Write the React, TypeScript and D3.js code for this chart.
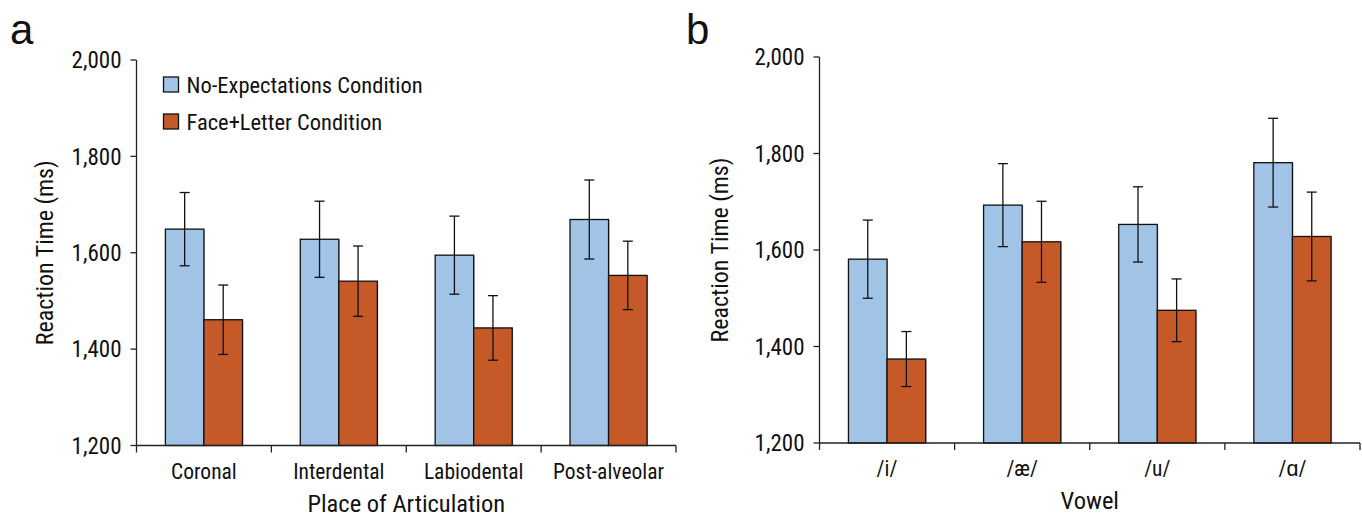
import React from "react";
import * as d3 from "d3";

const seriesNames = ["No-Expectations Condition", "Face+Letter Condition"];
const seriesColors = ["#a0c3e6", "#c55a28"];

const placeCategories = ["Coronal", "Interdental", "Labiodental", "Post-alveolar"];
const placeNoExp = [1649, 1628, 1595, 1669];
const placeNoExpErr = [76, 79, 81, 82];
const placeFaceLetter = [1461, 1541, 1444, 1553];
const placeFaceLetterErr = [72, 73, 67, 71];

const vowelCategories = ["/i/", "/æ/", "/u/", "/ɑ/"];
const vowelNoExp = [1581, 1693, 1653, 1781];
const vowelNoExpErr = [81, 86, 78, 92];
const vowelFaceLetter = [1374, 1617, 1475, 1628];
const vowelFaceLetterErr = [57, 84, 65, 92];

const yTicks = [1200, 1400, 1600, 1800, 2000];
const yDomain = [1200, 2000];

const FONT = "'Liberation Sans Narrow', 'Arial Narrow', 'Roboto Condensed', 'Liberation Sans', sans-serif";

type PanelProps = {
  letter: string;
  categories: string[];
  values: number[][];
  errors: number[][];
  xTitle: string;
  x0: number;
  x1: number;
  yTop: number;
  yBottom: number;
  legend: boolean;
  letterX: number;
  yTitleX: number;
};

function Panel(p: PanelProps) {
  const y = d3.scaleLinear().domain(yDomain).range([p.yBottom, p.yTop]);
  const x = d3.scaleBand<string>().domain(p.categories).range([p.x0, p.x1]).padding(0);
  const xs = d3
    .scaleBand<string>()
    .domain(seriesNames)
    .range([0, x.bandwidth()])
    .paddingInner(0)
    .paddingOuter(0.75);
  const fmt = d3.format(",");
  const boundaries = [...p.categories.map((c) => x(c) as number), p.x1];
  const cap = 5;
  return (
    <g fontFamily={FONT} fill="#111">
      <text x={p.letterX} y={44} fontSize={42} fontFamily="'Liberation Sans', Arial, sans-serif">
        {p.letter}
      </text>
      {/* bars */}
      {p.categories.map((c, i) =>
        seriesNames.map((s, si) => {
          const v = p.values[si][i];
          const bx = (x(c) as number) + (xs(s) as number);
          return (
            <g key={c + s}>
              <rect
                x={bx + 1}
                y={y(v) + 1}
                width={xs.bandwidth()}
                height={p.yBottom - y(v) - 1}
                fill="#bbb"
              />
              <rect
                x={bx}
                y={y(v)}
                width={xs.bandwidth()}
                height={p.yBottom - y(v)}
                fill={seriesColors[si]}
                stroke="#111"
                strokeWidth={1.3}
              />
            </g>
          );
        })
      )}
      {/* error bars */}
      {p.categories.map((c, i) =>
        seriesNames.map((s, si) => {
          const v = p.values[si][i];
          const e = p.errors[si][i];
          const cx = (x(c) as number) + (xs(s) as number) + xs.bandwidth() / 2;
          return (
            <g key={"e" + c + s} stroke="#111" strokeWidth={1.3}>
              <line x1={cx} x2={cx} y1={y(v + e)} y2={y(v - e)} />
              <line x1={cx - cap} x2={cx + cap} y1={y(v + e)} y2={y(v + e)} />
              <line x1={cx - cap} x2={cx + cap} y1={y(v - e)} y2={y(v - e)} />
            </g>
          );
        })
      )}
      {/* y axis */}
      <line x1={p.x0} x2={p.x0} y1={p.yTop} y2={p.yBottom} stroke="#222" strokeWidth={1.3} />
      {yTicks.map((t) => (
        <g key={t}>
          <line x1={p.x0 - 6} x2={p.x0} y1={y(t)} y2={y(t)} stroke="#222" strokeWidth={1.3} />
          <text x={p.x0 - 15} y={y(t)} dy="0.36em" textAnchor="end" fontSize={23}>
            {fmt(t)}
          </text>
        </g>
      ))}
      {/* x axis */}
      <line x1={p.x0} x2={p.x1} y1={p.yBottom} y2={p.yBottom} stroke="#222" strokeWidth={1.3} />
      {boundaries.map((b, i) => (
        <line key={i} x1={b} x2={b} y1={p.yBottom} y2={p.yBottom + 7} stroke="#222" strokeWidth={1.3} />
      ))}
      {p.categories.map((c) => (
        <text
          key={c}
          x={(x(c) as number) + x.bandwidth() / 2}
          y={p.yBottom + 33}
          textAnchor="middle"
          fontSize={21.5}
        >
          {c}
        </text>
      ))}
      <text x={(p.x0 + p.x1) / 2} y={p.yBottom + 66} textAnchor="middle" fontSize={24.5}>
        {p.xTitle}
      </text>
      <text
        transform={`translate(${p.yTitleX},${(p.yTop + p.yBottom) / 2}) rotate(-90)`}
        textAnchor="middle"
        fontSize={24}
      >
        Reaction Time (ms)
      </text>
      {p.legend &&
        seriesNames.map((s, si) => (
          <g key={s}>
            <rect
              x={p.x0 + 27}
              y={p.yTop + 17 + si * 37}
              width={15}
              height={15}
              fill={seriesColors[si]}
              stroke="#111"
              strokeWidth={1.3}
            />
            <text x={p.x0 + 50} y={p.yTop + 25 + si * 37} dy="0.36em" fontSize={22.5}>
              {s}
            </text>
          </g>
        ))}
    </g>
  );
}

export default function App() {
  return (
    <svg
      width={1362}
      height={517}
      style={{ position: "absolute", left: 0, top: 0, background: "#fff" }}
    >
      <rect width={1362} height={517} fill="#fff" />
      <Panel
        letter="a"
        categories={placeCategories}
        values={[placeNoExp, placeFaceLetter]}
        errors={[placeNoExpErr, placeFaceLetterErr]}
        xTitle="Place of Articulation"
        x0={136.5}
        x1={676}
        yTop={60}
        yBottom={445.5}
        legend={true}
        letterX={10}
        yTitleX={53}
      />
      <Panel
        letter="b"
        categories={vowelCategories}
        values={[vowelNoExp, vowelFaceLetter]}
        errors={[vowelNoExpErr, vowelFaceLetterErr]}
        xTitle="Vowel"
        x0={819.5}
        x1={1360}
        yTop={57}
        yBottom={443}
        legend={false}
        letterX={686}
        yTitleX={728}
      />
    </svg>
  );
}
